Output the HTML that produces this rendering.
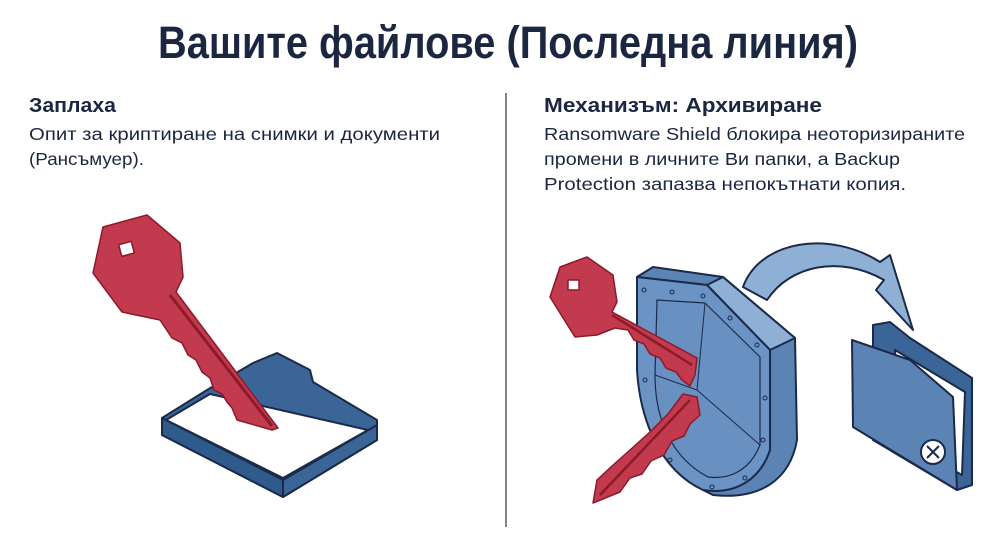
<!DOCTYPE html>
<html><head><meta charset="utf-8"><style>
html,body{margin:0;padding:0;background:#fff;}
svg{display:block}
text{font-family:"Liberation Sans",sans-serif;fill:#1b2640}
</style></head><body>
<svg width="1000" height="547" viewBox="0 0 1000 547" xmlns="http://www.w3.org/2000/svg">
<text x="158" y="58" font-size="45" font-weight="bold" textLength="700" lengthAdjust="spacingAndGlyphs">Вашите файлове (Последна линия)</text>
<line x1="506" y1="93" x2="506" y2="527" stroke="#333" stroke-width="1.2"/>
<text x="29" y="112" font-size="20" font-weight="bold" textLength="87" lengthAdjust="spacingAndGlyphs">Заплаха</text>
<text x="29" y="140" font-size="17.5" textLength="411" lengthAdjust="spacingAndGlyphs">Опит за криптиране на снимки и документи</text>
<text x="29" y="165" font-size="17.5" textLength="115" lengthAdjust="spacingAndGlyphs">(Рансъмуер).</text>
<text x="544" y="112" font-size="20" font-weight="bold" textLength="278" lengthAdjust="spacingAndGlyphs">Механизъм: Архивиране</text>
<text x="544" y="140" font-size="17.5" textLength="421" lengthAdjust="spacingAndGlyphs">Ransomware Shield блокира неоторизираните</text>
<text x="544" y="165" font-size="17.5" textLength="356" lengthAdjust="spacingAndGlyphs">промени в личните Ви папки, а Backup</text>
<text x="544" y="190" font-size="17.5" textLength="362" lengthAdjust="spacingAndGlyphs">Protection запазва непокътнати копия.</text>

<!-- left folder tray -->
<g stroke="#1b2a4a" stroke-width="2" stroke-linejoin="round">
<path d="M253,363 L277,353 L310,370 L313,382 L377,420 L377,440 L283,497 L162,435 L162,418 L207,390 Z" fill="#3b6596"/>
<path d="M166,420 L210,394 L368,430 L283,478 Z" fill="#fff"/>
<path d="M162,418 L283,480 L283,497 L162,435 Z" fill="#2f5a8c"/>
<path d="M283,480 L377,425 L377,440 L283,497 Z" fill="#3b6596"/>
</g>
<!-- left key -->
<g stroke="#8c1a2a" stroke-width="1.5" stroke-linejoin="round" fill="#c23a4d">
<path d="M93,273 L103,227 L147,215 L180,243 L183,277 L176,292 L278,428 L272,430 L237,420 L232,408 L227,402 L222,394 L214,390 L210,378 L202,372 L196,360 L188,355 L182,343 L172,338 L160,320 L122,312 Z"/>
<path d="M170,295 L272,426" stroke="#8c1a2a" stroke-width="3" fill="none"/>
<rect x="120" y="243" width="13" height="12" fill="#fff" transform="rotate(-15 126 249)"/>
</g>

<!-- shield -->
<g stroke="#1b2a4a" stroke-width="2" stroke-linejoin="round">
<path d="M653,267 L723,277 L795,338 L797,440 C790,480 760,500 713,495 L703,490 L770,450 L770,350 L707,285 L637,277 Z" fill="#5b84b5"/>
<path d="M723,277 L795,338 L770,350 L707,285 Z" fill="#8fb0d5"/>
<path d="M637,277 L707,285 L770,350 L770,450 C760,480 735,495 703,490 C660,470 640,420 637,370 Z" fill="#6b94c4"/>
<path d="M657,300 L705,303 L760,357 L760,445 C750,470 730,480 708,477 C672,458 655,420 655,375 Z" fill="#6890c0" stroke-width="1.2"/>
<path d="M705,303 L697,390 L760,445 M697,390 L655,375" fill="none" stroke-width="1"/>
</g>
<g fill="none" stroke="#1b2a4a" stroke-width="1">
<circle cx="644" cy="290" r="2"/><circle cx="672" cy="292" r="2"/><circle cx="703" cy="296" r="2"/>
<circle cx="730" cy="318" r="2"/><circle cx="757" cy="345" r="2"/><circle cx="765" cy="398" r="2"/>
<circle cx="763" cy="440" r="2"/><circle cx="745" cy="478" r="2"/><circle cx="712" cy="487" r="2"/>
<circle cx="670" cy="460" r="2"/><circle cx="645" cy="380" r="2"/>
</g>
<!-- arrow -->
<path d="M743,287 C760,240 830,230 880,262 L890,255 L913,330 L876,290 L884,280 C840,255 790,265 767,300 Z" fill="#8fb0d5" stroke="#1b2a4a" stroke-width="2" stroke-linejoin="round"/>
<!-- right folder -->
<g stroke="#1b2a4a" stroke-width="2" stroke-linejoin="round">
<path d="M873,325 L890,322 L910,338 L972,378 L972,485 L957,490 L873,440 Z" fill="#3b6596"/>
<path d="M895,350 L965,392 L962,475 L900,440 Z" fill="#fff"/>
<path d="M852,340 L910,360 L953,397 L957,490 L853,427 Z" fill="#5b84b5"/>
<circle cx="933" cy="452" r="12" fill="#fff"/>
<path d="M927,446 L939,458 M939,446 L927,458" stroke-width="2"/>
</g>
<!-- right keys -->
<g stroke="#8c1a2a" stroke-width="1.5" stroke-linejoin="round" fill="#c23a4d">
<path d="M550,297 L560,267 L587,257 L613,275 L617,302 L612,312 L697,358 L695,375 L690,386 L682,380 L676,372 L666,368 L660,358 L650,354 L644,344 L634,340 L628,330 L615,328 L597,335 L575,337 Z"/>
<path d="M612,315 L692,365" stroke="#8c1a2a" stroke-width="2.5" fill="none"/>
<rect x="568" y="280" width="11" height="10" fill="#fff"/>
<path d="M683,394 L697,397 L700,415 L690,424 L684,436 L672,441 L664,455 L651,461 L642,474 L630,478 L620,492 L593,503 L597,480 L612,466 L630,450 L650,432 L668,414 Z"/>
<path d="M690,400 L600,495" stroke="#8c1a2a" stroke-width="2.5" fill="none"/>
</g>
</svg>
</body></html>
